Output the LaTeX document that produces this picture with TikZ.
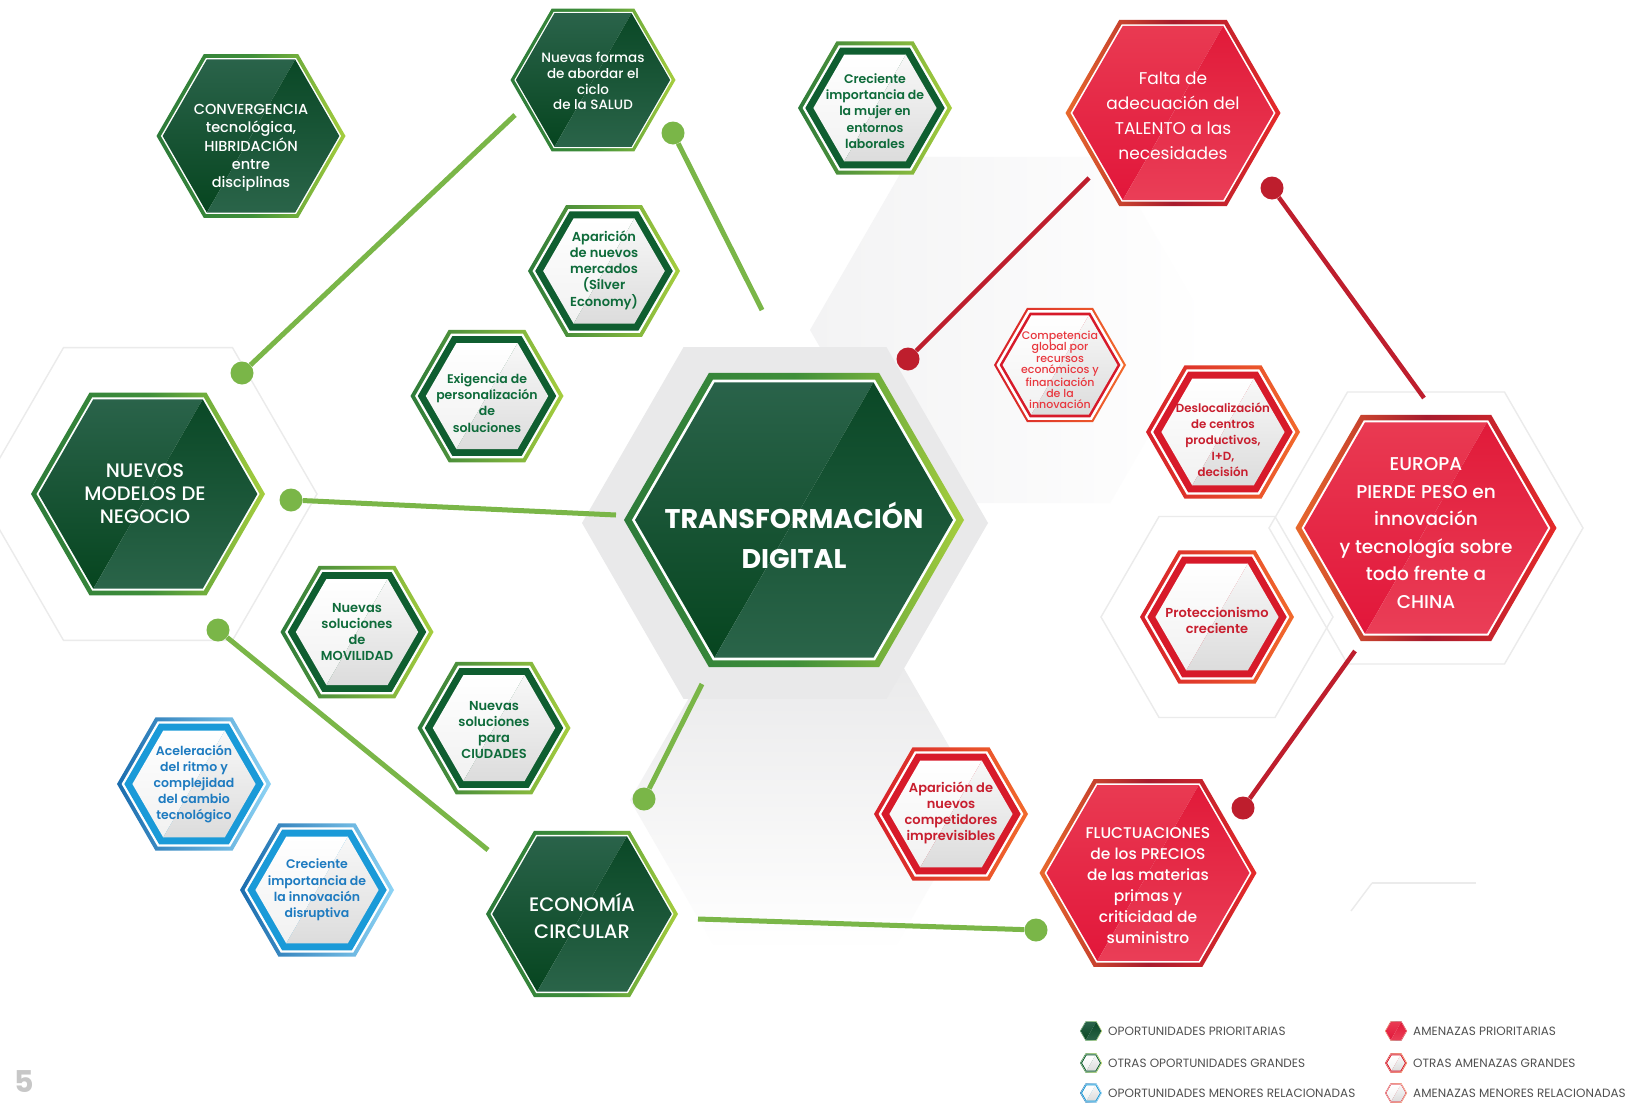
\documentclass[tikz,border=0pt]{standalone}
\usepackage{fontspec}
\setmainfont{Poppins}
\IfFontExistsTF{Poppins SemiBold}{\newfontfamily\semib{Poppins SemiBold}}{\newcommand\semib{\bfseries}}
\IfFontExistsTF{Poppins Medium}{\newfontfamily\medf{Poppins Medium}}{\newcommand\medf{\normalfont}}
\usetikzlibrary{shapes.geometric}
\definecolor{gA}{HTML}{2D7B3A}
\definecolor{gB}{HTML}{A6CE3E}
\definecolor{gM}{HTML}{3F8F3A}
\definecolor{gTL}{HTML}{2A634A}
\definecolor{gBL}{HTML}{06451F}
\definecolor{gTR}{HTML}{0A4826}
\definecolor{gBR}{HTML}{2A6449}
\definecolor{gline}{HTML}{7AB648}
\definecolor{gtext}{HTML}{0E6B3A}
\definecolor{gring}{HTML}{0F5E30}
\definecolor{rA}{HTML}{E8692D}
\definecolor{rM}{HTML}{A81C2E}
\definecolor{rB}{HTML}{E62A2A}
\definecolor{rTL}{HTML}{E93A52}
\definecolor{rBL}{HTML}{E2163A}
\definecolor{rTR}{HTML}{E11A39}
\definecolor{rBR}{HTML}{EA3E57}
\definecolor{rline}{HTML}{BE1E2D}
\definecolor{rtext}{HTML}{C81E2E}
\definecolor{rring}{HTML}{D71A2A}
\definecolor{rO1}{HTML}{D7202A}
\definecolor{rO2}{HTML}{F26A2C}
\definecolor{rlight}{HTML}{E8373E}
\definecolor{bA}{HTML}{1B6DAE}
\definecolor{bB}{HTML}{8ED4F5}
\definecolor{bring}{HTML}{1A9AD8}
\definecolor{btext}{HTML}{1E7BC0}
\definecolor{bggray}{HTML}{E9E9EA}
\definecolor{bgpale}{HTML}{F3F3F4}
\definecolor{faint}{HTML}{EBEBEB}
\definecolor{legtext}{HTML}{505050}
\definecolor{iG1}{HTML}{F1F1F1}
\definecolor{iG2}{HTML}{F8F8F8}
\definecolor{iG3}{HTML}{DCDCDC}

\newcommand\hx[1]{(0:#1)--(60:#1)--(120:#1)--(180:#1)--(240:#1)--(300:#1)--cycle}
\newcommand\gloss[5]{%
  \shade[top color=#2, bottom color=#3] (300:#1)--(240:#1)--(180:#1)--(120:#1)--cycle;
  \shade[top color=#4, bottom color=#5] (300:#1)--(0:#1)--(60:#1)--(120:#1)--cycle;}
% dark green priority hex: x, y, r
\newcommand\hexG[3]{%
  \begin{scope}[shift={(#1,#2)}]
    \shade[left color=gA, right color=gB, middle color=gM] \hx{#3};
    \fill[white] \hx{0.953*#3};
    \gloss{0.935*#3}{gTL}{gBL}{gTR}{gBR}
  \end{scope}}
% red priority hex
\newcommand\hexR[3]{%
  \begin{scope}[shift={(#1,#2)}]
    \shade[left color=rA, right color=rB, middle color=rM] \hx{#3};
    \fill[white] \hx{0.953*#3};
    \gloss{0.935*#3}{rTL}{rBL}{rTR}{rBR}
  \end{scope}}
% white hex with outlines: x, y, r, outer left, outer right, ring colour
\newcommand\hexO[6]{%
  \begin{scope}[shift={(#1,#2)}]
    \shade[left color=#4, right color=#5] \hx{#3};
    \fill[white] \hx{0.94*#3};
    \fill[#6] \hx{0.905*#3};
    \gloss{0.80*#3}{white}{iG1}{iG2}{iG3}
  \end{scope}}
% thin red hex (menor)
\newcommand\hexRm[3]{%
  \begin{scope}[shift={(#1,#2)}]
    \shade[left color=rO1, right color=rO2] \hx{#3};
    \fill[white] \hx{0.962*#3};
    \fill[rring] \hx{0.915*#3};
    \gloss{0.87*#3}{white}{iG1}{iG2}{iG3}
  \end{scope}}

\tikzset{
  tw/.style={align=center, inner sep=0pt, text=white},
  tg/.style={align=center, inner sep=0pt, text=gtext},
  tr/.style={align=center, inner sep=0pt, text=rtext},
  tb/.style={align=center, inner sep=0pt, text=btext},
  dotG/.style={circle, fill=gline, minimum size=23pt, inner sep=0pt},
  dotR/.style={circle, fill=rline, minimum size=23pt, inner sep=0pt},
  connG/.style={draw=gline, line width=5pt},
  connR/.style={draw=rline, line width=4.5pt},
  faintline/.style={draw=faint, line width=1.4pt},
  leg/.style={anchor=west, inner sep=0pt, text=legtext, font={\fontsize{12}{12}\selectfont}}
}

\begin{document}
\begin{tikzpicture}[x=1pt,y=-1pt]
\useasboundingbox (0,0) rectangle (1642,1103);
\fill[white] (0,0) rectangle (1642,1103);

% ---------- background ----------
\shade[shift={(1010,330)}, left color=bgpale, right color=white] \hx{200};
\shade[shift={(805,800)}, top color=bggray, bottom color=white] \hx{175};
\fill[bggray, shift={(785,523)}] \hx{203};
\draw[faintline, shift={(1217,617)}] \hx{116};
\draw[faintline, shift={(1426,528)}] \hx{157};
\draw[faintline, shift={(148,494)}] \hx{169};
\draw[faintline] (1372,883) -- (1476,883);
\draw[faintline] (1372,883) -- (1351,911);

% ---------- connectors ----------
\node[dotG] (g1a) at (242,373) {};
\coordinate (g1b) at (515,115);
\node[dotG] (g2a) at (673,133) {};
\coordinate (g2b) at (762,310);
\node[dotG] (g3a) at (291,500) {};
\coordinate (g3b) at (616,515);
\node[dotG] (g4a) at (218,630) {};
\coordinate (g4b) at (488,850);
\node[dotG] (g5a) at (644,799) {};
\coordinate (g5b) at (702,684);
\node[dotG] (g6a) at (1036,930) {};
\coordinate (g6b) at (698,919);
\node[dotR] (r1a) at (908,359) {};
\coordinate (r1b) at (1089,178);
\node[dotR] (r2a) at (1272,188) {};
\coordinate (r2b) at (1424,398);
\node[dotR] (r3a) at (1243,808) {};
\coordinate (r3b) at (1355,651);
\draw[connG] (g1a) -- (g1b);
\draw[connG] (g2a) -- (g2b);
\draw[connG] (g3a) -- (g3b);
\draw[connG] (g4a) -- (g4b);
\draw[connG] (g5a) -- (g5b);
\draw[connG] (g6a) -- (g6b);
\draw[connR] (r1a) -- (r1b);
\draw[connR] (r2a) -- (r2b);
\draw[connR] (r3a) -- (r3b);

% ---------- hexagons ----------
\hexG{251}{136}{94.5}
\hexG{593}{80}{82.5}
\hexG{148}{494}{117}
\hexG{794}{520}{170}
\hexG{582}{914}{96}
\hexR{1173}{113}{107.5}
\hexR{1426}{528}{130.5}
\hexR{1148}{873}{108.5}
\hexO{875}{108}{77}{gA}{gB}{gring}
\hexO{604}{271}{76}{gA}{gB}{gring}
\hexO{487}{396}{76.5}{gA}{gB}{gring}
\hexO{357}{632}{76.5}{gA}{gB}{gring}
\hexO{494}{728}{76.5}{gA}{gB}{gring}
\hexO{194}{784}{77}{bA}{bB}{bring}
\hexO{317}{890}{77}{bA}{bB}{bring}
\hexO{1223}{432}{77}{rO1}{rO2}{rring}
\hexO{1217}{617}{77}{rO1}{rO2}{rring}
\hexO{951}{814}{77}{rO1}{rO2}{rring}
\hexRm{1060}{365}{66}

% ---------- texts ----------
\node[tw, font={\medf\fontsize{14.5}{18.3}\selectfont}] (conv) at (251,148)
  {CONVERGENCIA\\tecnológica,\\HIBRIDACIÓN\\entre\\disciplinas};
\node[tw, font={\medf\fontsize{13.5}{15.7}\selectfont}] (salud) at (593,81)
  {Nuevas formas\\de abordar el\\ciclo\\de la SALUD};
\node[tw, font={\medf\fontsize{19.5}{23}\selectfont}] (nuevos) at (145,494)
  {NUEVOS\\MODELOS DE\\NEGOCIO};
\node[tw, font={\bfseries\fontsize{27}{40}\selectfont}] (td) at (794,535)
  {TRANSFORMACIÓN\\DIGITAL};
\node[tw, font={\medf\fontsize{19.5}{27.5}\selectfont}] (econ) at (582,916)
  {ECONOMÍA\\CIRCULAR};
\node[tw, font={\fontsize{17}{25}\selectfont}] (talento) at (1173,116)
  {Falta de\\adecuación del\\TALENTO a las\\necesidades};
\node[tw, font={\medf\fontsize{18.5}{27.6}\selectfont}] (europa) at (1426,533)
  {EUROPA\\PIERDE PESO en\\innovación\\y tecnología sobre\\todo frente a\\CHINA};
\node[tw, font={\medf\fontsize{15.5}{21}\selectfont}] (fluct) at (1148,886)
  {FLUCTUACIONES\\de los PRECIOS\\de las materias\\primas y\\criticidad de\\suministro};
\node[tg, font={\semib\fontsize{12.5}{16.2}\selectfont}] (mujer) at (875,111)
  {Creciente\\importancia de\\la mujer en\\entornos\\laborales};
\node[tg, font={\semib\fontsize{13}{16.2}\selectfont}] (mercados) at (604,270)
  {Aparición\\de nuevos\\mercados\\(Silver\\Economy)};
\node[tg, font={\semib\fontsize{12.5}{16.2}\selectfont}] (personal) at (487,403)
  {Exigencia de\\personalización\\de\\soluciones};
\node[tg, font={\semib\fontsize{13}{16.2}\selectfont}] (movil) at (357,632)
  {Nuevas\\soluciones\\de\\MOVILIDAD};
\node[tg, font={\semib\fontsize{13}{16.2}\selectfont}] (ciudades) at (494,730)
  {Nuevas\\soluciones\\para\\CIUDADES};
\node[tb, font={\semib\fontsize{12.5}{16.2}\selectfont}] (acel) at (194,784)
  {Aceleración\\del ritmo y\\complejidad\\del cambio\\tecnológico};
\node[tb, font={\semib\fontsize{12.5}{16.2}\selectfont}] (disrupt) at (317,890)
  {Creciente\\importancia de\\la innovación\\disruptiva};
\node[tr, font={\semib\fontsize{11.8}{16}\selectfont}] (desloc) at (1223,440)
  {Deslocalización\\de centros\\productivos,\\I+D,\\decisión};
\node[tr, font={\semib\fontsize{13}{16}\selectfont}] (protec) at (1217,620)
  {Proteccionismo\\creciente};
\node[tr, font={\semib\fontsize{13}{16}\selectfont}] (compet) at (951,813)
  {Aparición de\\nuevos\\competidores\\imprevisibles};
\node[tr, text=rlight, font={\medf\fontsize{11}{11.3}\selectfont}] (global) at (1060,370)
  {Competencia\\global por\\recursos\\económicos y\\financiación\\de la\\innovación};

% ---------- legend ----------
\hexG{1091}{1031}{11}
\hexO{1091}{1063}{11}{gA}{gB}{gring}
\hexO{1091}{1093}{11}{bA}{bB}{bring}
\hexR{1396}{1031}{11}
\hexO{1396}{1063}{11}{rO1}{rO2}{rring}
\hexRm{1396}{1093}{11}
\node[leg] (l1) at (1108,1031) {OPORTUNIDADES PRIORITARIAS};
\node[leg] (l2) at (1108,1063) {OTRAS OPORTUNIDADES GRANDES};
\node[leg] (l3) at (1108,1093) {OPORTUNIDADES MENORES RELACIONADAS};
\node[leg] (l4) at (1413,1031) {AMENAZAS PRIORITARIAS};
\node[leg] (l5) at (1413,1063) {OTRAS AMENAZAS GRANDES};
\node[leg] (l6) at (1413,1093) {AMENAZAS MENORES RELACIONADAS};

% ---------- page number ----------
\node[anchor=south west, inner sep=0pt, text=black!22, font={\bfseries\fontsize{30}{30}\selectfont}] (pg) at (14,1093) {5};
\end{tikzpicture}
\end{document}
